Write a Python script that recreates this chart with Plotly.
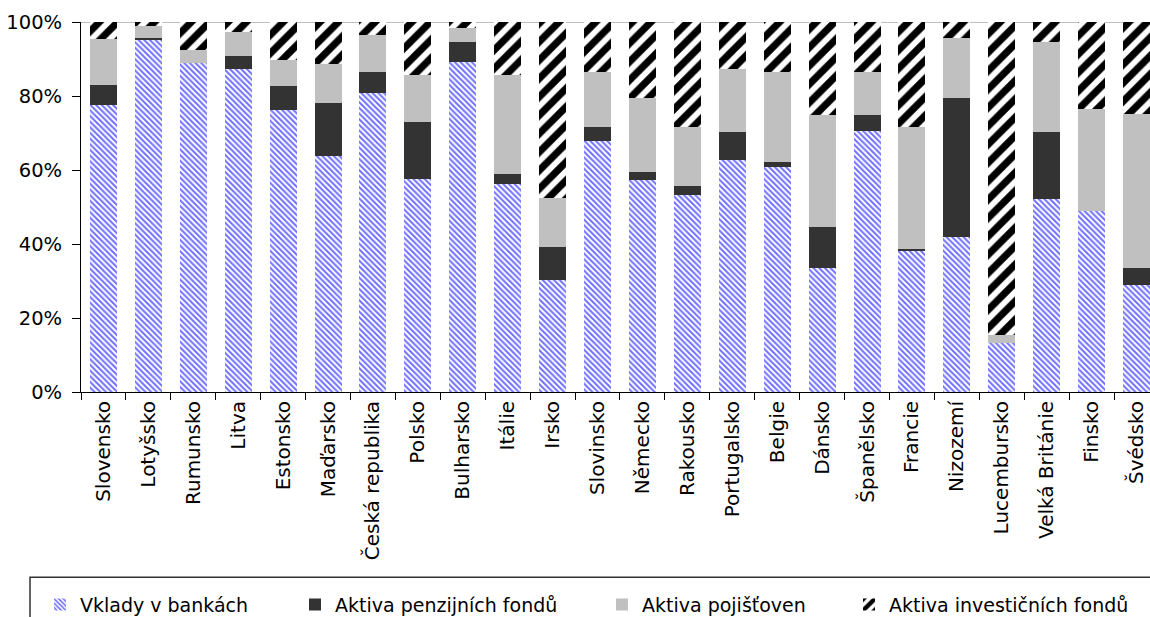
import plotly.graph_objects as go

# Struktura finančních aktiv domácností podle zemí (podíly v %)
countries = [
    "Slovensko", "Lotyšsko", "Rumunsko", "Litva", "Estonsko", "Maďarsko",
    "Česká republika", "Polsko", "Bulharsko", "Itálie", "Irsko", "Slovinsko",
    "Německo", "Rakousko", "Portugalsko", "Belgie", "Dánsko", "Španělsko",
    "Francie", "Nizozemí", "Lucembursko", "Velká Británie", "Finsko", "Švédsko",
]
vklady = [77.6, 95.3, 88.8, 87.3, 76.3, 63.7, 80.8, 57.6, 89.1, 56.2, 30.3, 67.9,
          57.2, 53.3, 62.6, 60.7, 33.5, 70.6, 38.2, 41.9, 13.2, 52.2, 48.8, 28.9]
penzijni = [5.5, 0.4, 0.0, 3.6, 6.3, 14.3, 5.6, 15.4, 5.5, 2.8, 8.8, 3.6,
            2.3, 2.5, 7.6, 1.5, 11.1, 4.2, 0.4, 37.5, 0.0, 18.0, 0.0, 4.6]
pojistovny = [12.2, 3.2, 3.6, 6.5, 7.0, 10.7, 10.2, 12.8, 3.8, 26.8, 13.3, 14.9,
              19.9, 15.7, 17.1, 24.2, 30.2, 11.6, 32.9, 16.3, 2.2, 24.4, 27.8, 41.7]
investicni = [4.7, 1.1, 7.6, 2.6, 10.4, 11.3, 3.4, 14.2, 1.6, 14.2, 47.6, 13.6,
              20.6, 28.5, 12.7, 13.6, 25.2, 13.6, 28.5, 4.3, 84.6, 5.4, 23.4, 24.8]
y_ticks = [0, 20, 40, 60, 80, 100]
y_tick_labels = ["0%", "20%", "40%", "60%", "80%", "100%"]

FONT = "DejaVu Sans"

fig = go.Figure()
fig.add_bar(
    x=countries, y=vklady, name="Vklady v bankách", legend="legend",
    showlegend=True,
    marker=dict(color="white", line=dict(width=0),
                pattern=dict(shape="\\", fgcolor="#6f6fff", bgcolor="white",
                             fgopacity=1, size=4, solidity=0.5)),
)
fig.add_bar(
    x=countries, y=penzijni, name="Aktiva penzijních fondů", legend="legend2",
    showlegend=True,
    marker=dict(color="#333333", line=dict(width=0)),
)
fig.add_bar(
    x=countries, y=pojistovny, name="Aktiva pojišťoven", legend="legend3",
    showlegend=True,
    marker=dict(color="#c0c0c0", line=dict(width=0)),
)
fig.add_bar(
    x=countries, y=investicni, name="Aktiva investičních fondů", legend="legend4",
    showlegend=True,
    marker=dict(color="white", line=dict(width=0),
                pattern=dict(shape="/", fgcolor="black", bgcolor="white",
                             fgopacity=1, size=13, solidity=0.55)),
)

legend_common = dict(
    orientation="h", yanchor="middle", xanchor="left", y=-0.575,
    bgcolor="rgba(0,0,0,0)", borderwidth=0,
    font=dict(family=FONT, size=19, color="black"),
)
plot_left, plot_w = 81, 1069
legend_px = [40, 295, 602, 849]
fig.update_layout(
    width=1150, height=617, showlegend=True,
    margin=dict(l=plot_left, r=0, t=22, b=225, autoexpand=False),
    paper_bgcolor="white", plot_bgcolor="white",
    barmode="stack", bargap=0.4,
    font=dict(family=FONT, size=20, color="black"),
    legend=dict(legend_common, x=(legend_px[0] - plot_left) / plot_w),
    legend2=dict(legend_common, x=(legend_px[1] - plot_left) / plot_w),
    legend3=dict(legend_common, x=(legend_px[2] - plot_left) / plot_w),
    legend4=dict(legend_common, x=(legend_px[3] - plot_left) / plot_w),
    shapes=[
        # horní vodicí čára na 100 %
        dict(type="line", xref="paper", yref="y", x0=0, x1=1, y0=100, y1=100,
             line=dict(color="#808080", width=1), layer="below"),
        # rámeček legendy
        dict(type="rect", xref="paper", yref="paper",
             x0=(30 - plot_left) / plot_w, x1=1.05, y0=-0.501, y1=-0.75,
             line=dict(color="#333333", width=1.5), fillcolor="rgba(0,0,0,0)"),
    ],
)
fig.update_xaxes(
    type="category", range=[-0.5, 23.3],
    tickangle=-90, ticks="outside", tickson="boundaries", ticklen=7,
    tickcolor="black", showline=True, linecolor="black", linewidth=1,
    showgrid=False, tickfont=dict(family=FONT, size=20),
)
fig.update_yaxes(
    range=[0, 100], tickvals=y_ticks, ticktext=y_tick_labels,
    ticks="outside", ticklen=8, tickcolor="black",
    showline=True, linecolor="black", linewidth=1,
    showgrid=False, zeroline=False, ticklabelstandoff=6,
    tickfont=dict(family=FONT, size=19.5),
)

fig.write_html("out.html")
